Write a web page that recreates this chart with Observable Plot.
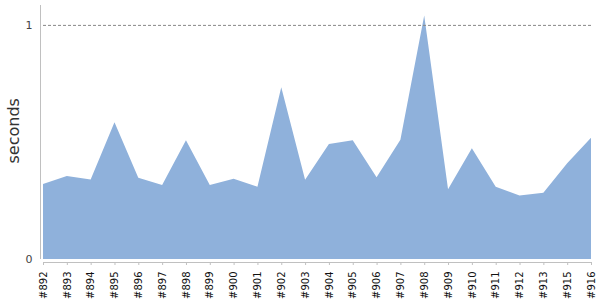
<!DOCTYPE html>
<html>
<head>
<meta charset="utf-8">
<script src="https://cdn.jsdelivr.net/npm/d3@7"></script>
<script src="https://cdn.jsdelivr.net/npm/@observablehq/plot@0.6"></script>
<style>
  html, body { margin: 0; padding: 0; background: #fff; }
  #chart svg { display: block; }
</style>
</head>
<body>
<div id="chart"></div>
<script>
const builds = ["#892","#893","#894","#895","#896","#897","#898","#899","#900","#901","#902","#903","#904","#905","#906","#907","#908","#909","#910","#911","#912","#913","#915","#916"];
const seconds = [0.32,0.355,0.34,0.584,0.347,0.316,0.507,0.316,0.343,0.309,0.734,0.338,0.491,0.507,0.349,0.509,1.04,0.298,0.473,0.309,0.271,0.283,0.409,0.518];
const yTicks = [0, 1];
const gridValues = [1];
const yLabel = ["seconds"];

const data = builds.map((b, i) => ({build: b, seconds: seconds[i]}));

const chart = Plot.plot({
  width: 600,
  height: 300,
  marginTop: 5,
  marginBottom: 41,
  marginLeft: 43,
  marginRight: 9,
  style: {fontFamily: "DejaVu Sans, sans-serif", background: "#fff"},
  x: {type: "point", domain: builds, padding: 0, round: false, axis: null},
  y: {domain: [0, 1.085], axis: null},
  marks: [
    Plot.areaY(data, {x: "build", y: "seconds", fill: "#8fb1db", curve: "linear"}),
    Plot.ruleY(gridValues, {stroke: "#888", strokeDasharray: "3,2", strokeWidth: 1}),
    Plot.ruleX([builds[0]], {dx: -3, y1: 0, y2: 1.085, stroke: "#c0c0c0"}),
    Plot.ruleY([0], {dy: 3, stroke: "#c0c0c0"}),
    Plot.axisX({
      tickRotate: -90, tickSize: 3, tickPadding: 6, dy: 3,
      stroke: "#c0c0c0", fill: "#111", fontSize: 10, label: null
    }),
    Plot.axisY({
      ticks: yTicks, tickSize: 0, tickPadding: 11, fill: "#444", fontSize: 11,
      tickFormat: d3.format("d"), label: null
    }),
    Plot.text(yLabel, {
      text: d => d, frameAnchor: "left", rotate: -90, dx: -30, dy: 31,
      fontSize: 16, fill: "#333"
    })
  ]
});
document.getElementById("chart").append(chart);
</script>
</body>
</html>
